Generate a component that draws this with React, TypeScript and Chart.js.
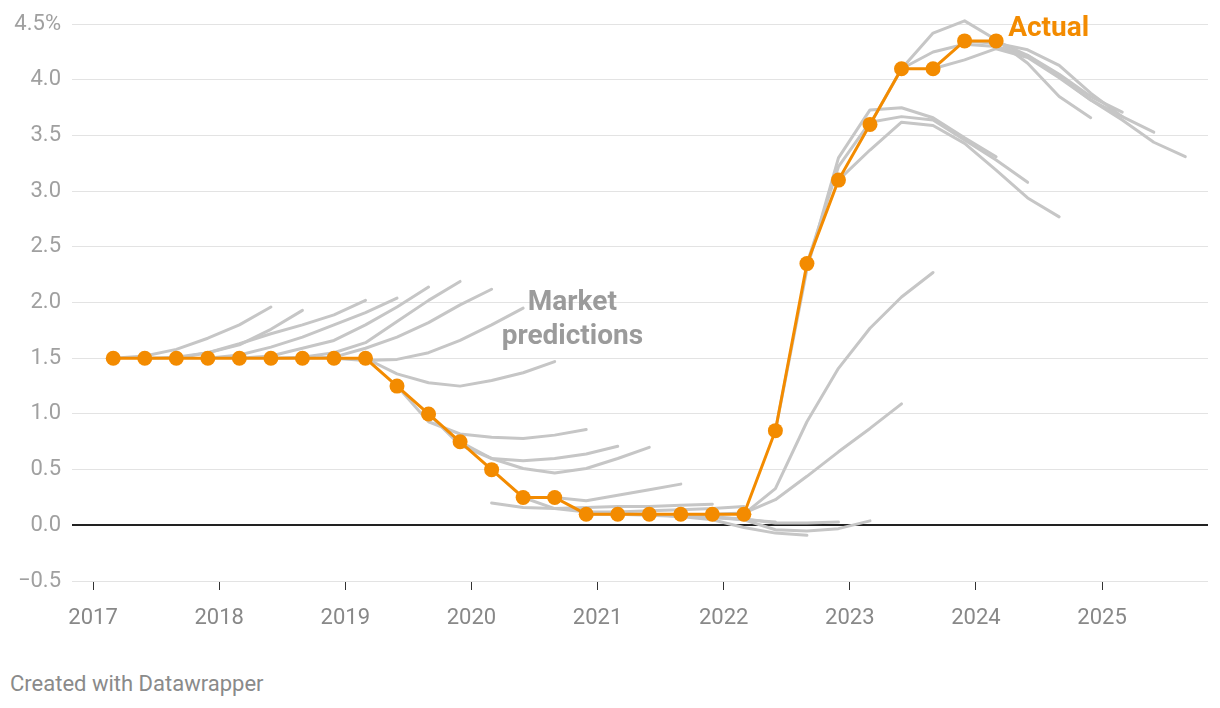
import { useEffect, useRef } from 'react';
import { Chart, registerables } from 'chart.js';

Chart.register(...registerables);

// Quarterly observation dates (decimal years)
const quarterDates = [
  2017.16, 2017.41, 2017.66, 2017.91, 2018.16, 2018.41, 2018.66, 2018.91,
  2019.16, 2019.41, 2019.66, 2019.91, 2020.16, 2020.41, 2020.66, 2020.91,
  2021.16, 2021.41, 2021.66, 2021.91, 2022.16, 2022.41, 2022.66, 2022.91,
  2023.16, 2023.41, 2023.66, 2023.91, 2024.16, 2024.41, 2024.66, 2024.91,
  2025.16, 2025.41, 2025.66,
];

// Actual cash rate (%)
const actualRate = [
  1.5, 1.5, 1.5, 1.5, 1.5, 1.5, 1.5, 1.5, 1.5, 1.25, 1.0, 0.75, 0.5, 0.25, 0.25,
  0.1, 0.1, 0.1, 0.1, 0.1, 0.1, 0.85, 2.35, 3.1, 3.6, 4.1, 4.1, 4.35, 4.35,
];

// Market predictions: index of first quarter, and predicted path
const predictionStart = [
  0, 1, 2, 3, 4, 5, 6, 7, 8, 9, 10, 11, 12, 13, 14, 15, 16, 17, 18, 19, 20, 21,
  22, 23, 24, 25, 26, 27, 28,
];
const predictionValues = [
  [1.5, 1.52, 1.58, 1.68, 1.8, 1.96],
  [1.5, 1.51, 1.55, 1.62, 1.76, 1.93],
  [1.5, 1.55, 1.63, 1.72, 1.8, 1.89, 2.02],
  [1.5, 1.53, 1.6, 1.69, 1.8, 1.91, 2.04],
  [1.5, 1.52, 1.59, 1.66, 1.8, 1.96, 2.14],
  [1.5, 1.51, 1.55, 1.64, 1.83, 2.02, 2.19],
  [1.5, 1.51, 1.59, 1.69, 1.82, 1.98, 2.12],
  [1.5, 1.48, 1.49, 1.55, 1.66, 1.8, 1.95],
  [1.5, 1.36, 1.28, 1.25, 1.3, 1.37, 1.47],
  [1.25, 0.93, 0.82, 0.79, 0.78, 0.81, 0.86],
  [1.0, 0.72, 0.6, 0.58, 0.6, 0.64, 0.71],
  [0.75, 0.6, 0.51, 0.47, 0.51, 0.6, 0.7],
  [0.2, 0.16, 0.15, 0.16, 0.17, 0.17, 0.18, 0.19],
  [0.25, 0.15, 0.12, 0.12, 0.13, 0.14, 0.15, 0.17],
  [0.25, 0.22, 0.27, 0.32, 0.37],
  [0.1, 0.1, 0.09, 0.08, 0.07, 0.05, 0.03],
  [0.1, 0.1, 0.08, 0.05, -0.02, -0.07, -0.09],
  [0.1, 0.09, 0.07, 0.06, 0.02, 0.02, 0.03],
  [0.1, 0.08, 0.05, -0.04, -0.05, -0.03, 0.04],
  [0.1, 0.11, 0.23, 0.44, 0.66, 0.87, 1.09],
  [0.1, 0.33, 0.93, 1.41, 1.77, 2.05, 2.27],
  [0.85, 2.3, 3.3, 3.73, 3.75, 3.66, 3.48, 3.31],
  [2.35, 3.22, 3.62, 3.67, 3.64, 3.46, 3.28, 3.08],
  [3.1, 3.37, 3.62, 3.59, 3.43, 3.19, 2.94, 2.77],
  [3.6, 4.1, 4.42, 4.53, 4.36, 4.15, 3.85, 3.66],
  [4.1, 4.25, 4.32, 4.3, 4.22, 4.05, 3.85, 3.71],
  [4.1, 4.18, 4.28, 4.2, 4.02, 3.82, 3.67],
  [4.35, 4.33, 4.27, 4.13, 3.88, 3.67, 3.53],
  [4.35, 4.22, 4.03, 3.82, 3.64, 3.44, 3.31],
];

const yTickValues = [-0.5, 0, 0.5, 1, 1.5, 2, 2.5, 3, 3.5, 4, 4.5];
const xTickYears = [2017, 2018, 2019, 2020, 2021, 2022, 2023, 2024, 2025];

const ORANGE = '#f38b00';
const GREY_LINE = '#c6c6c6';
const FONT = 'Roboto, "Noto Sans", sans-serif';

const labelPlugin = {
  id: 'annotLabels',
  afterDatasetsDraw(chart: any) {
    const { ctx, scales } = chart;
    const x = scales.x;
    const y = scales.y;
    ctx.save();
    ctx.font = `bold 28px ${FONT}`;
    ctx.textBaseline = 'middle';
    ctx.fillStyle = ORANGE;
    ctx.textAlign = 'left';
    ctx.fillText('Actual', x.getPixelForValue(2024.256), y.getPixelForValue(4.456));
    ctx.fillStyle = '#9b9b9b';
    ctx.textAlign = 'center';
    const cx = x.getPixelForValue(2020.8);
    ctx.fillText('Market', cx, y.getPixelForValue(2.0));
    ctx.fillText('predictions', cx, y.getPixelForValue(1.69));
    ctx.restore();
  },
};

export default function App() {
  const canvasRef = useRef<HTMLCanvasElement>(null);

  useEffect(() => {
    const canvas = canvasRef.current;
    if (!canvas) return;

    const greyDatasets = predictionValues.map((vals, i) => ({
      label: `prediction ${i}`,
      data: vals.map((v, j) => ({ x: quarterDates[predictionStart[i] + j], y: v })),
      borderColor: GREY_LINE,
      backgroundColor: GREY_LINE,
      borderWidth: 3,
      pointRadius: 0,
      pointHoverRadius: 0,
      borderJoinStyle: 'round' as const,
      borderCapStyle: 'round' as const,
      tension: 0,
      clip: false as any,
    }));

    const actualDataset = {
      label: 'Actual',
      data: actualRate.map((v, i) => ({ x: quarterDates[i], y: v })),
      borderColor: ORANGE,
      backgroundColor: ORANGE,
      borderWidth: 3,
      pointRadius: 7.5,
      pointBorderWidth: 0,
      pointBackgroundColor: ORANGE,
      tension: 0,
      clip: false as any,
    };

    const chart = new Chart(canvas, {
      type: 'line',
      data: { datasets: [actualDataset, ...greyDatasets] as any },
      plugins: [labelPlugin],
      options: {
        animation: false,
        responsive: false,
        events: [],
        layout: { padding: { top: 24, right: 12, left: 0, bottom: 0 } },
        plugins: {
          legend: { display: false },
          tooltip: { enabled: false },
        },
        scales: {
          x: {
            type: 'linear',
            min: 2016.833,
            max: 2025.84,
            afterBuildTicks: (scale: any) => {
              scale.ticks = xTickYears.map((v) => ({ value: v }));
            },
            afterFit: (scale: any) => {
              scale.height = 79;
            },
            border: { display: false },
            grid: {
              drawOnChartArea: false,
              drawTicks: true,
              tickLength: 9,
              color: '#333333',
              lineWidth: 1,
            },
            ticks: {
              autoSkip: false,
              maxRotation: 0,
              padding: 15,
              color: '#888888',
              font: { family: FONT, size: 22 },
              callback: (v: any) => String(v),
            },
          },
          y: {
            type: 'linear',
            min: -0.5,
            max: 4.5,
            afterBuildTicks: (scale: any) => {
              scale.ticks = yTickValues.map((v) => ({ value: v }));
            },
            afterFit: (scale: any) => {
              scale.width = 72;
            },
            border: { display: false },
            grid: {
              drawTicks: false,
              color: (ctx: any) => (ctx.tick && ctx.tick.value === 0 ? '#222222' : '#e3e3e3'),
              lineWidth: (ctx: any) => (ctx.tick && ctx.tick.value === 0 ? 2 : 1),
            },
            ticks: {
              padding: 11,
              color: '#a0a0a0',
              font: { family: FONT, size: 22 },
              callback: (v: any) => {
                if (v === 4.5) return '4.5%';
                if (v < 0) return '\u2212' + Math.abs(v).toFixed(1);
                return Number(v).toFixed(1);
              },
            },
          },
        },
      },
    });

    return () => chart.destroy();
  }, []);

  return (
    <div
      style={{
        position: 'fixed',
        left: 0,
        top: 0,
        width: 1220,
        height: 708,
        background: '#ffffff',
        overflow: 'hidden',
      }}
    >
      <canvas ref={canvasRef} width={1220} height={660} style={{ display: 'block' }} />
      <div
        style={{
          position: 'absolute',
          left: 10,
          top: 671,
          fontFamily: FONT,
          fontSize: 22,
          color: '#8a8a8a',
          whiteSpace: 'nowrap',
        }}
      >
        Created with Datawrapper
      </div>
    </div>
  );
}
